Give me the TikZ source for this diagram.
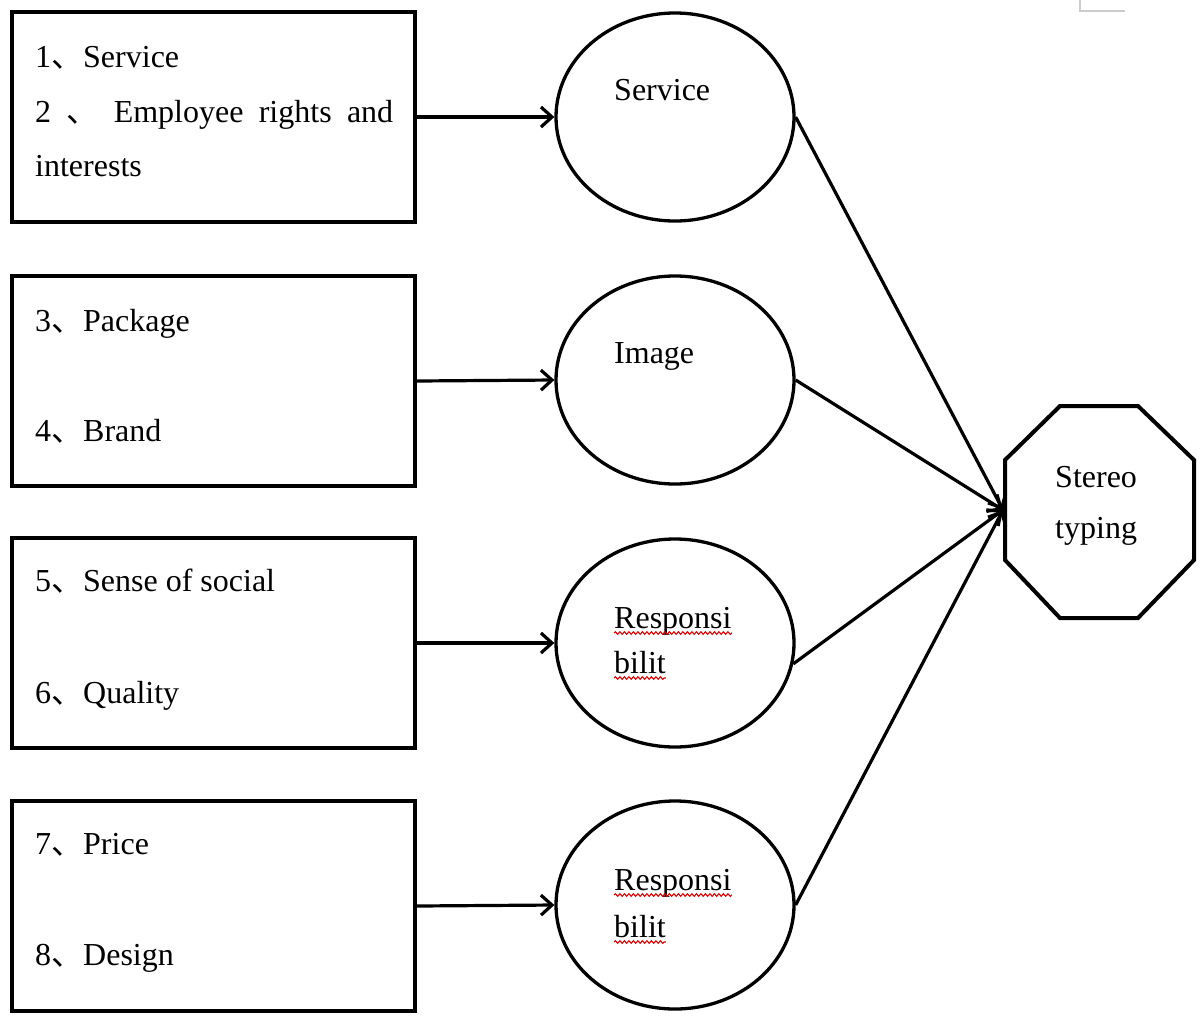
\documentclass[tikz,border=0pt]{standalone}
\usepackage{fontspec}
\setmainfont{Liberation Serif}
\newfontfamily\cjk{Noto Sans CJK SC}
\usetikzlibrary{shapes.geometric,arrows.meta,decorations.pathmorphing}
\newcommand{\dun}{{\cjk 、}}
\begin{document}
\begin{tikzpicture}[x=1pt,y=-1pt,
  boxnode/.style={draw, line width=4pt, minimum width=403pt, minimum height=210pt, inner sep=0pt},
  circnode/.style={draw, ellipse, line width=3.3pt, minimum width=238pt, minimum height=208pt, inner sep=0pt},
  boxtext/.style={anchor=base west, inner sep=0pt, font=\fontsize{32}{38}\selectfont},
  circtext/.style={anchor=base west, inner sep=0pt, font=\fontsize{32}{38}\selectfont},
  arr/.style={line width=3.2pt, -{Straight Barb[length=11pt,width=20pt]}},
  wavy/.style={red!85!black, line width=1.1pt, decorate, decoration={snake, amplitude=1.3pt, segment length=4.5pt}}]
\useasboundingbox (0,0) rectangle (1204,1021);

% faint corner mark
\draw[gray!40, line width=1.2pt] (1080,0) -- (1080,11) -- (1125,11);

% boxes
\node[boxnode] (b1) at (213.5,117) {};
\node[boxnode] (b2) at (213.5,381) {};
\node[boxnode] (b3) at (213.5,643) {};
\node[boxnode] (b4) at (213.5,906) {};

% box texts
\node[boxtext] (t1) at (35,67) {1\dun Service};
\node[boxtext] (t2) at (35,122) {\makebox[358pt][s]{2 \dun{} Employee rights and}};
\node[boxtext] (t2b) at (35,176) {interests};
\node[boxtext] (t3) at (35,331) {3\dun Package};
\node[boxtext] (t4) at (35,441) {4\dun Brand};
\node[boxtext] (t5) at (35,591) {5\dun Sense of social};
\node[boxtext] (t6) at (35,703) {6\dun Quality};
\node[boxtext] (t7) at (35,854) {7\dun Price};
\node[boxtext] (t8) at (35,965) {8\dun Design};

% circles
\node[circnode] (c1) at (675,117) {};
\node[circnode] (c2) at (675,380) {};
\node[circnode] (c3) at (675,643) {};
\node[circnode] (c4) at (675,905) {};

% circle texts
\node[circtext] (s1) at (614,100) {Service};
\node[circtext] (s2) at (614,363) {Image};
\node[circtext] (s3a) at (614,628) {Responsi};
\node[circtext] (s3b) at (614,673) {bilit};
\node[circtext] (s4a) at (614,890) {Responsi};
\node[circtext] (s4b) at (614,937) {bilit};
\draw[wavy] ([yshift=-5pt]s3a.base west) -- ([yshift=-5pt]s3a.base east);
\draw[wavy] ([yshift=-5pt]s3b.base west) -- ([yshift=-5pt]s3b.base east);
\draw[wavy] ([yshift=-5pt]s4a.base west) -- ([yshift=-5pt]s4a.base east);
\draw[wavy] ([yshift=-5pt]s4b.base west) -- ([yshift=-5pt]s4b.base east);

% octagon
\draw[line width=4pt, line join=miter] (1060,406) -- (1138,406) -- (1194,460) -- (1194,560) -- (1138,618) -- (1060,618) -- (1005,560) -- (1005,460) -- cycle;
\node[circtext] (st1) at (1055,487) {Stereo};
\node[circtext] (st2) at (1055,538) {typing};
\coordinate (sin) at (1003,510);

% arrows box -> circle
\draw[arr] (b1.east) -- (c1.west);
\draw[arr] (b2.east) -- (c2.west);
\draw[arr] (b3.east) -- (c3.west);
\draw[arr] (b4.east) -- (c4.west);

% arrows circle -> octagon
\draw[arr] (c1.east) -- (sin);
\draw[arr] (c2.east) -- (sin);
\draw[arr] (c3.-10) -- (sin);
\draw[arr] (c4.east) -- (sin);
\end{tikzpicture}
\end{document}
